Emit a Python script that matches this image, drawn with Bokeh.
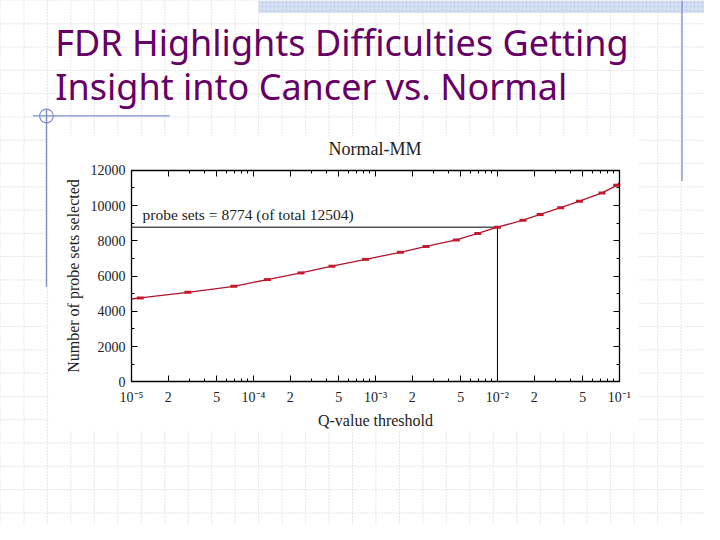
import math
from bokeh.plotting import figure
from bokeh.models import (Range1d, LogScale, LogAxis, LinearAxis, FixedTicker,
                          CustomJSTickFormatter)
from bokeh.core.properties import value
from bokeh.embed import file_html
from bokeh.resources import INLINE

# ---------------- data ----------------
SLIDE_TITLE = ["FDR Highlights Difficulties Getting", "Insight into Cancer vs. Normal"]
CHART_TITLE = "Normal-MM"
X_LABEL = "Q-value threshold"
Y_LABEL = "Number of probe sets selected"

Q_VALUES = [1e-5, 1.18e-5, 2.9e-5, 6.9e-5, 1.3e-4, 2.45e-4, 4.4e-4, 8.3e-4, 1.6e-3,
            2.6e-3, 4.6e-3, 6.9e-3, 1.0e-2, 1.62e-2, 2.24e-2, 3.3e-2, 4.7e-2,
            7.2e-2, 9.5e-2, 1e-1]
COUNTS = [4700, 4760, 5080, 5420, 5800, 6180, 6560, 6950, 7350,
          7680, 8050, 8420, 8774, 9170, 9500, 9880, 10250,
          10720, 11150, 11290]

THRESH_Q = 1e-2
SELECTED = 8774
TOTAL = 12504
ANNOT = f"probe sets = {SELECTED} (of total {TOTAL})"
ANNOT_Q = 1.23e-5
ANNOT_N = 9470

Q_MIN, Q_MAX = 1e-5, 1e-1
N_MIN, N_MAX = 0, 12000

X_MAJOR = [1e-5, 2e-5, 5e-5, 1e-4, 2e-4, 5e-4, 1e-3, 2e-3, 5e-3, 1e-2, 2e-2, 5e-2, 1e-1]
X_LABELS = ["10\u207b\u2075", "2", "5", "10\u207b\u2074", "2", "5", "10\u207b\u00b3",
            "2", "5", "10\u207b\u00b2", "2", "5", "10\u207b\u00b9"]
X_MINOR = [m * 10.0 ** k for k in range(-5, -1) for m in (3, 4, 6, 7, 8, 9)]
Y_TICKS = [0, 2000, 4000, 6000, 8000, 10000, 12000]
Y_MINOR = [1000, 3000, 5000, 7000, 9000, 11000]

# ---------------- layout (slide pixels, 720 x 540 slide drawn on a 704 x 524 canvas) ----------------
SW, SH = 720, 540
W, H = 704, 524
PL, PR, PT, PB = 134, 633, 175, 393   # chart plot area in slide pixels

dec_px = (PR - PL) / (math.log10(Q_MAX) - math.log10(Q_MIN))
lq0 = math.log10(Q_MIN) - PL / dec_px
lq1 = math.log10(Q_MAX) + (SW - PR) / dec_px
n_px = (PB - PT) / (N_MAX - N_MIN)
n0 = N_MIN - (SH - PB) / n_px
n1 = N_MAX + PT / n_px

p = figure(width=W, height=H, x_range=Range1d(0, SW), y_range=Range1d(SH, 0),
           x_axis_type=None, y_axis_type=None, toolbar_location=None,
           output_backend="svg", min_border=0, outline_line_color=None,
           background_fill_color="white", border_fill_color="white")
p.extra_x_ranges = {"q": Range1d(10 ** lq0, 10 ** lq1)}
p.extra_x_scales = {"q": LogScale()}
p.extra_y_ranges = {"n": Range1d(n0, n1)}

# ---------------- slide decoration ----------------
gx = list(range(0, SW + 1, 24))
gy = list(range(0, SH + 1, 24))
p.segment(x0=gx, y0=[0] * len(gx), x1=gx, y1=[SH] * len(gx),
          line_color="#cccccc", line_width=1, line_dash="1 2")
p.segment(x0=[0] * len(gy), y0=gy, x1=[SW] * len(gy), y1=gy,
          line_color="#cccccc", line_width=1, line_dash="1 2")
p.quad(left=[264], right=[SW], top=[0], bottom=[13], fill_color="#d6e0f1",
       line_color=None, hatch_pattern="dot", hatch_color="#b9c8e6", hatch_scale=4)
BLUE = "#7d8fc6"
p.segment(x0=[33, 47, 697], y0=[119, 112, 0], x1=[173, 47, 697], y1=[119, 295, 186],
          line_color=BLUE, line_width=1.3)
p.circle(x=[47], y=[119], radius=7, fill_color=None, line_color=BLUE, line_width=1.2)

p.text(x=[56, 56], y=[43, 89], text=SLIDE_TITLE, text_font=value("Noto Sans"),
       text_font_size="36px", text_color="#660066", text_baseline="middle")

# white box of the embedded chart
p.quad(left=[49], right=[652], top=[140], bottom=[443], fill_color="white", line_color=None)

SERIF = "Liberation Serif"
p.text(x=[383], y=[153], text=[CHART_TITLE], text_font=value(SERIF),
       text_font_size="18px", text_align="center", text_baseline="middle", text_color="#222222")

# ---------------- chart ----------------
kw = dict(x_range_name="q", y_range_name="n")
p.segment(x0=[Q_MIN, THRESH_Q], y0=[SELECTED, N_MIN], x1=[THRESH_Q, THRESH_Q],
          y1=[SELECTED, SELECTED], line_color="black", line_width=1, **kw)
p.line(Q_VALUES, COUNTS, line_color="#b3142c", line_width=1.3, **kw)
p.rect(x=Q_VALUES[1:-1], y=COUNTS[1:-1], width=7, height=3, width_units="screen",
       height_units="screen", fill_color="#c41a30", line_color=None, **kw)
p.text(x=[ANNOT_Q], y=[ANNOT_N], text=[ANNOT], text_font=value(SERIF), text_font_size="15.5px",
       text_baseline="middle", text_color="#222222", **kw)

blank = CustomJSTickFormatter(code="return ''")


def style(ax):
    ax.axis_line_color = "black"
    ax.axis_line_width = 1.3
    ax.major_tick_in = 6
    ax.major_tick_out = 0
    ax.minor_tick_in = 3
    ax.minor_tick_out = 0
    ax.major_tick_line_color = "black"
    ax.minor_tick_line_color = "black"
    ax.major_label_text_font = SERIF
    ax.major_label_text_font_size = "14px"
    ax.major_label_text_color = "#222222"
    ax.axis_label_text_font = SERIF
    ax.axis_label_text_font_size = "16px"
    ax.axis_label_text_font_style = "normal"
    ax.axis_label_text_color = "#222222"


xb = LogAxis(fixed_location=N_MIN, bounds=(Q_MIN, Q_MAX),
             ticker=FixedTicker(ticks=X_MAJOR, minor_ticks=X_MINOR),
             major_label_overrides=dict(zip(X_MAJOR, X_LABELS)),
             axis_label=X_LABEL, **kw)
style(xb)
xb.major_label_standoff = 8
xb.axis_label_standoff = 4
p.add_layout(xb, "below")

xt = LogAxis(fixed_location=N_MAX, bounds=(Q_MIN, Q_MAX),
             ticker=FixedTicker(ticks=X_MAJOR, minor_ticks=X_MINOR), formatter=blank, **kw)
style(xt)
p.add_layout(xt, "above")

yl = LinearAxis(fixed_location=Q_MIN, bounds=(N_MIN, N_MAX),
                ticker=FixedTicker(ticks=Y_TICKS, minor_ticks=Y_MINOR),
                axis_label=Y_LABEL, **kw)
style(yl)
yl.major_label_standoff = 6
yl.axis_label_standoff = 6
p.add_layout(yl, "left")

yr = LinearAxis(fixed_location=Q_MAX, bounds=(N_MIN, N_MAX),
                ticker=FixedTicker(ticks=Y_TICKS, minor_ticks=Y_MINOR), formatter=blank, **kw)
style(yr)
p.add_layout(yr, "right")

open("out.html", "w").write(file_html(p, INLINE))
